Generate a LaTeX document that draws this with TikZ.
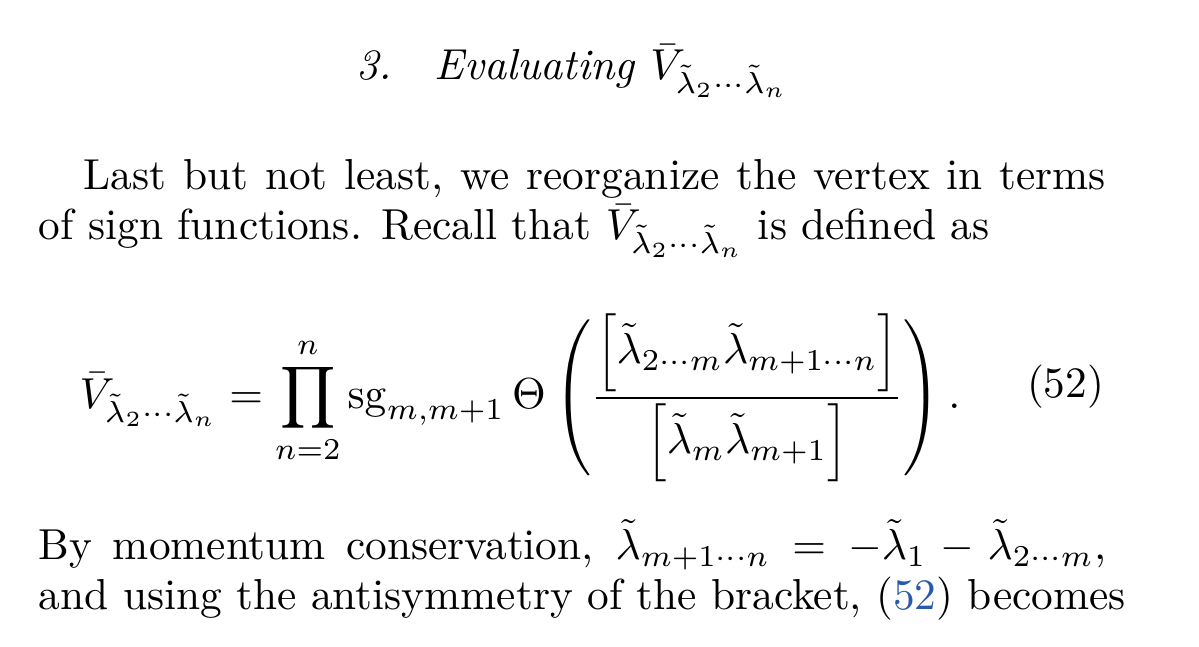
\documentclass[tikz,border=0pt]{standalone}
\usepackage{amsmath}
\usepackage{xcolor}
\definecolor{linkblue}{RGB}{40,90,170}
\begin{document}
\begin{tikzpicture}[x=0.2307pt,y=-0.2307pt,
  txt/.style={inner sep=0pt,anchor=base west,font=\fontsize{10}{12}\selectfont}]
\useasboundingbox (0,0) rectangle (1199,647);
\node[txt,anchor=base] (title) at (572,80) {\itshape 3.\quad Evaluating $\bar V_{\tilde\lambda_2\cdots\tilde\lambda_n}$};
\node[txt] (l1) at (83,190) {\hbox to 235.8pt{Last but not least, we reorganize the vertex in terms}};
\node[txt] (l2) at (38,240) {of sign functions. Recall that $\bar V_{\tilde\lambda_2\cdots\tilde\lambda_n}$ is defined as};
\node[txt,anchor=center] (eq) at (520,398) {$\displaystyle \bar V_{\tilde\lambda_2\cdots\tilde\lambda_n}=\prod_{n=2}^{n}\mathrm{sg}_{m,m+1}\,\Theta\left(\frac{\Big[\tilde\lambda_{2\cdots m}\tilde\lambda_{m+1\cdots n}\Big]}{\Big[\tilde\lambda_m\tilde\lambda_{m+1}\Big]}\right).$};
\node[txt,anchor=base east] (num) at (1105,398) {(52)};
\node[txt] (l3) at (38,560) {\hbox to 246.2pt{By momentum conservation, $\tilde\lambda_{m+1\cdots n}=-\tilde\lambda_1-\tilde\lambda_{2\cdots m}$,}};
\node[txt] (l4) at (38,610) {and using the antisymmetry of the bracket, ({\color{linkblue}52}) becomes};
\end{tikzpicture}
\end{document}
